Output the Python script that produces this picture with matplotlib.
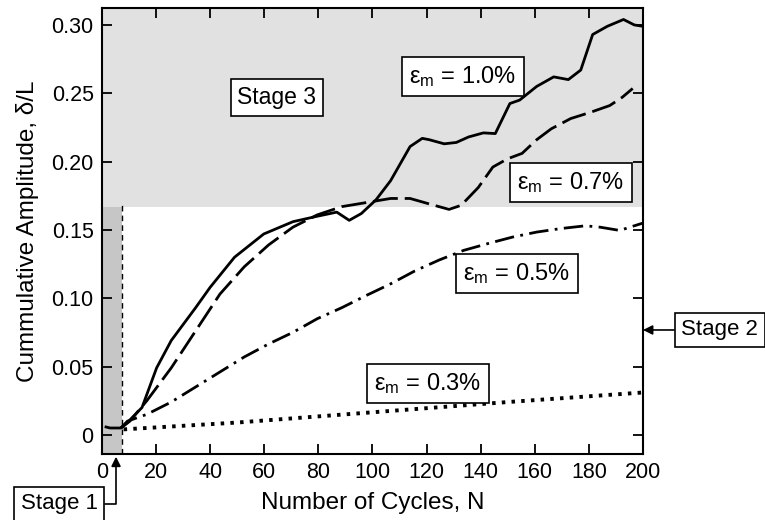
import matplotlib
matplotlib.use('Agg')
import matplotlib.pyplot as plt

plt.rcParams['font.family'] = ['Liberation Sans', 'DejaVu Sans']
plt.rcParams['mathtext.fontset'] = 'custom'
plt.rcParams['mathtext.rm'] = 'Liberation Sans'
plt.rcParams['mathtext.it'] = 'Liberation Sans:italic'

# Curvas (N, delta/L)
n_10 = [1, 3, 7, 9.4, 14.8, 20.2, 25.6, 34.6, 40, 49, 59.8, 70.6, 79.6, 86.8, 91.4,
        95.9, 101.3, 106.7, 113.9, 118.4, 121, 126.5, 131, 135.5, 141, 145.4, 150.8,
        154.4, 160.7, 167, 172.4, 177, 181.4, 186.8, 192.8, 196.8, 200]
d_10 = [0.006, 0.005, 0.005, 0.009, 0.020, 0.049, 0.069, 0.093, 0.108, 0.130, 0.147,
        0.156, 0.160, 0.163, 0.157, 0.162, 0.172, 0.186, 0.211, 0.217, 0.216, 0.213,
        0.214, 0.218, 0.221, 0.2205, 0.2425, 0.245, 0.255, 0.262, 0.260, 0.267, 0.293,
        0.299, 0.304, 0.300, 0.299]

n_07 = [7, 10.3, 16.6, 25.6, 34.6, 43.6, 52.6, 61.6, 70.6, 79.6, 88.6, 97.7, 106.7,
        113.9, 121, 128.3, 132.8, 139.1, 144.5, 149.9, 155.3, 160.7, 166.1, 173.3,
        180.5, 187.7, 192.3, 196.2]
d_07 = [0.005, 0.010, 0.025, 0.049, 0.076, 0.103, 0.123, 0.139, 0.152, 0.161, 0.167,
        0.170, 0.173, 0.173, 0.169, 0.165, 0.168, 0.181, 0.196, 0.202, 0.206, 0.216,
        0.224, 0.2315, 0.236, 0.241, 0.247, 0.2535]

n_05 = [7, 9.4, 16.6, 25.6, 34.6, 43.6, 52.6, 61.6, 70.6, 79.6, 88.6, 97.7, 106.7,
        115.7, 124.7, 133.7, 142.7, 151.7, 160.7, 169.7, 178.7, 184.1, 191.4, 196.8, 200]
d_05 = [0.005, 0.010, 0.015, 0.024, 0.035, 0.046, 0.057, 0.0665, 0.075, 0.085, 0.093,
        0.102, 0.1105, 0.120, 0.128, 0.135, 0.140, 0.1447, 0.1484, 0.151, 0.153, 0.152,
        0.1496, 0.153, 0.155]

n_03 = [8, 50, 100, 150, 200]
d_03 = [0.004, 0.009, 0.0165, 0.024, 0.031]

# Rótulos das curvas: (texto, x, y)
labels = [('ε$_\\mathrm{m}$ = 1.0%', 133.5, 0.262),
          ('ε$_\\mathrm{m}$ = 0.7%', 173.4, 0.185),
          ('ε$_\\mathrm{m}$ = 0.5%', 153.4, 0.118),
          ('ε$_\\mathrm{m}$ = 0.3%', 120.5, 0.0373)]

stage3_y = 0.1665
stage1_x = 7.5
ylo, yhi = -0.014, 0.3124

fig = plt.figure(figsize=(7.65, 5.2), dpi=100)
ax = fig.add_axes([0.1333, 0.127, 0.7072, 0.8576])

# Regiões sombreadas
ax.axhspan(stage3_y, yhi, color='#e1e1e1', lw=0, zorder=0)
ax.fill_between([0, stage1_x], ylo, stage3_y, color='#c6c6c6', lw=0, zorder=0)
ax.plot([stage1_x, stage1_x], [ylo, 0.1697], color='k', lw=1, dashes=(4, 3), zorder=1)

# Curvas
ax.plot(n_10, d_10, color='k', lw=2, solid_capstyle='butt', zorder=3)
ax.plot(n_07, d_07, color='k', lw=2, dashes=(9, 2.5), zorder=3)
ax.plot(n_05, d_05, color='k', lw=2, dashes=(7, 2.3, 1, 2.3), zorder=3)
ax.plot(n_03, d_03, color='k', lw=2.8, dashes=(0.9, 1.6), zorder=3)

box = dict(boxstyle='square,pad=0.3', fc='white', ec='k', lw=1.2)
for txt, x, y in labels:
    ax.text(x, y, txt, fontsize=17, ha='center', va='center', bbox=box, zorder=4)

ax.text(64.7, 0.247, 'Stage 3', fontsize=16.5, ha='center', va='center', bbox=box, zorder=4)

ax.annotate('Stage 2', xy=(1.0, 0.278), xycoords='axes fraction',
            xytext=(1.142, 0.278), textcoords='axes fraction',
            fontsize=16, ha='center', va='center', bbox=box, annotation_clip=False,
            arrowprops=dict(arrowstyle='-|>', color='k', lw=1.2, shrinkA=0, shrinkB=0,
                            mutation_scale=14))

ax.annotate('Stage 1', xy=(5.2, ylo - 0.002), xycoords='data',
            xytext=(-0.079, -0.112), textcoords='axes fraction',
            fontsize=16, ha='center', va='center', bbox=box, annotation_clip=False,
            arrowprops=dict(arrowstyle='-|>', color='k', lw=1.2, shrinkA=0, shrinkB=0,
                            mutation_scale=14,
                            connectionstyle='angle,angleA=0,angleB=90,rad=0'))

ax.set_xlim(0, 200)
ax.set_ylim(ylo, yhi)
ax.set_xticks(range(0, 201, 20))
ax.set_yticks([0, 0.05, 0.10, 0.15, 0.20, 0.25, 0.30])
ax.set_yticklabels(['0', '0.05', '0.10', '0.15', '0.20', '0.25', '0.30'])
ax.tick_params(direction='in', top=True, right=True, length=7, width=1.3,
               labelsize=15.5, pad=6)
for s in ax.spines.values():
    s.set_linewidth(1.5)
    s.set_zorder(5)

ax.set_xlabel('Number of Cycles, N', fontsize=17.5, labelpad=6)
ax.set_ylabel('Cummulative Amplitude, δ/L', fontsize=17.5, labelpad=9)

fig.savefig('out.png', dpi=100)
